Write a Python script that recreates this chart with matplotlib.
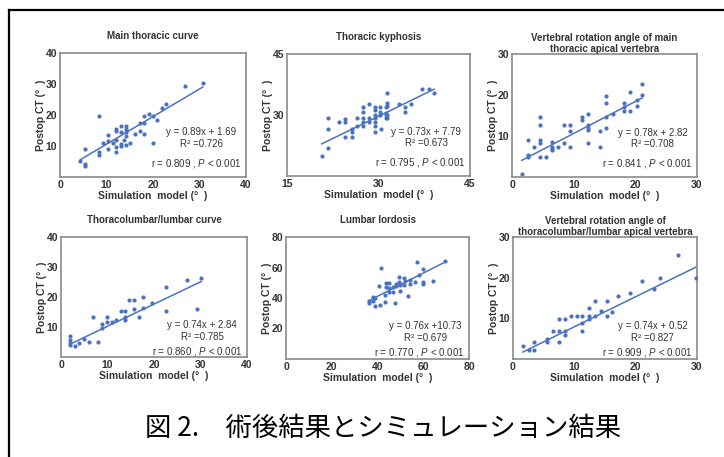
import numpy as np
import matplotlib
matplotlib.use("Agg")
import matplotlib.pyplot as plt
from matplotlib.lines import Line2D

plt.rcParams['font.family'] = ['Liberation Sans', 'DejaVu Sans']
plt.rcParams['mathtext.fontset'] = 'custom'
plt.rcParams['mathtext.rm'] = 'Liberation Sans'
plt.rcParams['mathtext.it'] = 'Liberation Sans:italic'

# ---- data ----
main_x = [4.4, 5.4, 5.4, 5.4, 8.3, 8.3, 8.3, 9.3, 10.3, 10.3, 10.3, 11.3, 12.1, 12.1,
          12.1, 12.1, 12.1, 13.2, 13.2, 13.2, 13.2, 13.7, 14.3, 14.3, 14.3, 14.3, 14.3,
          15.1, 16.1, 17.1, 17.1, 18.1, 18.1, 18.1, 19.1, 20.1, 20.1, 20.9, 22.0, 22.9,
          26.9, 30.7]
main_y = [5.2, 8.9, 4.2, 3.4, 19.6, 8.1, 7.1, 10.9, 13.6, 11.6, 8.9, 10.9, 12.0, 9.7,
          8.1, 15.6, 14.9, 16.5, 14.4, 10.7, 9.9, 11.8, 16.5, 15.4, 14.4, 13.3, 10.2,
          10.9, 13.9, 17.5, 14.9, 19.6, 17.5, 13.9, 20.3, 19.6, 10.9, 18.5, 22.4, 23.4,
          29.2, 30.2]

kyph_x = [20.7, 21.7, 21.7, 21.7, 23.6, 24.5, 24.5, 24.5, 25.6, 25.6, 25.6, 26.5, 26.5,
          27.4, 27.4, 27.4, 27.4, 27.4, 28.4, 28.4, 28.4, 29.5, 29.5, 29.5, 29.5, 29.5,
          29.5, 29.5, 30.3, 30.3, 30.3, 30.4, 31.2, 31.2, 31.2, 31.2, 31.4, 31.4, 31.4,
          31.4, 31.4, 33.4, 34.3, 34.3, 35.4, 37.2, 38.2, 39.1]
kyph_y = [20.0, 29.2, 26.5, 21.8, 28.3, 29.0, 28.3, 24.5, 26.5, 25.7, 24.5, 27.4, 29.2,
          32.0, 30.8, 29.2, 28.2, 27.4, 32.7, 29.2, 28.2, 32.0, 31.2, 30.0, 29.2, 28.2,
          27.4, 25.7, 32.0, 30.8, 30.0, 26.5, 32.0, 30.5, 30.0, 29.2, 35.5, 32.9, 32.3,
          30.0, 29.2, 32.7, 32.0, 30.8, 32.7, 36.5, 36.5, 35.5]

mtrot_x = [1.6, 2.6, 2.6, 2.6, 3.5, 4.6, 4.6, 4.6, 4.6, 4.6, 5.5, 6.5, 6.5, 6.5, 6.5,
           7.5, 8.5, 8.5, 9.4, 9.4, 9.4, 11.3, 11.3, 12.4, 12.4, 12.4, 12.4, 12.4, 14.2,
           14.2, 15.3, 15.3, 15.3, 15.3, 16.3, 18.2, 18.2, 18.2, 19.2, 19.2, 20.2, 20.2,
           21.1, 21.1]
mtrot_y = [0.8, 9.1, 5.3, 4.8, 7.4, 14.6, 12.7, 9.1, 8.3, 4.8, 4.8, 8.6, 7.4, 6.8, 6.5,
           7.4, 12.7, 8.3, 12.7, 11.1, 7.4, 14.6, 13.8, 15.3, 12.7, 12.0, 11.4, 8.3, 11.1,
           7.4, 19.8, 18.1, 14.7, 11.9, 15.3, 18.1, 17.0, 16.2, 20.8, 16.2, 18.9, 17.2,
           22.6, 20.0]

tl_x = [1.9, 1.9, 1.9, 1.9, 3.0, 3.9, 5.0, 6.1, 6.9, 7.9, 8.9, 8.9, 9.9, 9.9, 10.9, 11.8,
        12.9, 13.7, 13.7, 13.7, 14.7, 15.7, 15.7, 16.8, 17.6, 17.6, 19.5, 22.5, 22.5, 27.2,
        29.3, 30.2]
tl_y = [6.9, 5.6, 4.8, 4.0, 3.8, 4.8, 6.0, 5.0, 13.4, 5.0, 11.0, 9.8, 13.4, 11.7, 11.7,
        12.4, 15.2, 15.2, 13.4, 12.4, 19.0, 19.0, 16.0, 13.4, 20.0, 16.3, 18.1, 23.5, 15.2,
        25.6, 16.0, 26.5]

lord_x = [36.2, 36.2, 38.1, 38.1, 38.7, 39.1, 40.9, 41.4, 40.6, 43.2, 43.2, 43.8, 43.8,
          45.2, 45.2, 45.2, 46.7, 46.7, 47.5, 48.1, 48.1, 49.3, 49.3, 49.7, 49.7, 51.4,
          51.4, 52.2, 53.2, 54.3, 54.3, 56.2, 57.2, 58.0, 60.1, 60.1, 60.1, 64.1, 69.3]
lord_y = [36.5, 38.2, 40.9, 38.2, 35.0, 40.3, 35.6, 59.5, 47.8, 41.9, 37.1, 49.7, 47.0,
          49.7, 46.5, 44.0, 47.0, 44.0, 36.5, 49.1, 47.6, 53.9, 50.7, 48.2, 44.9, 52.8,
          48.6, 51.2, 41.3, 51.8, 49.1, 50.7, 63.7, 54.9, 58.7, 50.7, 49.1, 51.2, 64.4]

tlrot_x = [1.6, 2.6, 3.5, 3.5, 5.5, 5.5, 6.5, 7.5, 7.5, 7.5, 8.5, 8.5, 8.5, 9.4, 10.4,
           11.3, 11.3, 11.3, 12.4, 12.4, 12.4, 13.3, 13.3, 14.3, 15.3, 15.3, 16.2, 17.2,
           19.1, 21.1, 23.0, 24.0, 26.9, 29.9]
tlrot_y = [3.2, 2.3, 2.3, 4.2, 5.0, 4.2, 6.9, 9.8, 6.9, 4.2, 9.8, 6.9, 5.9, 10.6, 10.6,
           10.6, 8.8, 6.9, 12.5, 10.6, 9.8, 14.2, 10.6, 11.9, 14.2, 10.6, 11.5, 15.4,
           16.2, 19.1, 17.3, 20.0, 25.5, 19.8]

titles = ['Main thoracic curve', 'Thoracic kyphosis',
          'Vertebral rotation angle of main\nthoracic apical vertebra',
          'Thoracolumbar/lumbar curve', 'Lumbar lordosis',
          'Vertebral rotation angle of\nthoracolumbar/lumbar apical vertebra']
slopes = [0.89, 0.73, 0.78, 0.74, 0.76, 0.74]
intercepts = [1.69, 7.79, 2.82, 2.84, 10.73, 0.52]
eq_labels = ['y = 0.89x + 1.69', 'y = 0.73x + 7.79', 'y = 0.78x + 2.82',
             'y = 0.74x + 2.84', 'y = 0.76x +10.73', 'y = 0.74x + 0.52']
r2_vals = ['0.726', '0.673', '0.708', '0.785', '0.679', '0.827']
r_vals = ['0.809', '0.795', '0.841', '0.860', '0.770', '0.909']
xlims = [(0, 40), (15, 45), (0, 30), (0, 40), (0, 80), (0, 30)]
ylims = [(0, 40), (15, 45), (0, 30), (0, 40), (0, 80), (0, 30)]
xticks = [[0, 10, 20, 30, 40], [15, 30, 45], [0, 10, 20, 30],
          [0, 10, 20, 30, 40], [0, 20, 40, 60, 80], [0, 10, 20, 30]]
yticks = [[10, 20, 30, 40], [30, 45], [10, 20, 30],
          [10, 20, 30, 40], [20, 40, 60, 80], [10, 20, 30]]
caption = '図 2.　術後結果とシミュレーション結果'

xs = [main_x, kyph_x, mtrot_x, tl_x, lord_x, tlrot_x]
ys = [main_y, kyph_y, mtrot_y, tl_y, lord_y, tlrot_y]

W, H = 724, 457
# axes boxes in pixels: left, top, right, bottom
boxes = [(60, 53, 246, 177), (287, 54, 470, 176), (512, 54, 697, 177),
         (61, 237, 247, 357), (286, 237, 469, 359), (513, 237, 697, 359)]

blue = '#4a72c0'
grey = '#8a8a8a'
dark = '#333333'

fig = plt.figure(figsize=(W / 100, H / 100), dpi=100)

for i in range(6):
    l, t, r, b = boxes[i]
    ax = fig.add_axes([l / W, (H - b) / H, (r - l) / W, (b - t) / H])
    x = np.array(xs[i])
    y = np.array(ys[i])
    ax.scatter(x, y, s=9, color=blue, zorder=3, linewidths=0)
    xl = np.array([x.min(), x.max()])
    ax.plot(xl, slopes[i] * xl + intercepts[i], color=blue, lw=1.1, zorder=2)

    ax.set_xlim(*xlims[i])
    ax.set_ylim(*ylims[i])
    ax.set_xticks(xticks[i])
    ax.set_yticks(yticks[i])
    ax.tick_params(length=0, pad=2, labelsize=7.5, labelcolor=dark)
    for lab in ax.get_xticklabels() + ax.get_yticklabels():
        lab.set_fontweight('bold')
    for sp in ax.spines.values():
        sp.set_color(grey)
        sp.set_linewidth(1.2)

    ax.set_xlabel('Simulation  model (°  )', fontsize=7.5, fontweight='bold',
                  color=dark, labelpad=1)
    ax.set_ylabel('Postop CT (°  )', fontsize=7.5, fontweight='bold',
                  color=dark, labelpad=0)

    if '\n' in titles[i]:
        ax.text(0.5, 1.0, titles[i], transform=ax.transAxes, ha='center',
                va='bottom', fontsize=7, fontweight='bold', color=dark,
                linespacing=1.1)
    else:
        ax.text(0.5, 1.1, titles[i], transform=ax.transAxes, ha='center',
                va='bottom', fontsize=7, fontweight='bold', color=dark)

    if i < 3:
        ye, yr2, yr = 0.36, 0.27, 0.11
    else:
        ye, yr2, yr = 0.27, 0.17, 0.05
    ax.text(0.76, ye, eq_labels[i], transform=ax.transAxes, ha='center',
            va='center', fontsize=7, color=dark)
    ax.text(0.76, yr2, 'R² =' + r2_vals[i], transform=ax.transAxes,
            ha='center', va='center', fontsize=7, color=dark)
    ax.text(0.975, yr, 'r = ' + r_vals[i] + ' , $P$ < 0.001',
            transform=ax.transAxes, ha='right', va='center', fontsize=7,
            color=dark)

# outer frame (top and left edges only)
fig.add_artist(Line2D([9 / W, 1], [1 - 10 / H, 1 - 10 / H], color='black', lw=1.6))
fig.add_artist(Line2D([9 / W, 9 / W], [0, 1 - 10 / H], color='black', lw=1.6))

fig.text(383 / W, 1 - 428 / H, caption, ha='center', va='center', fontsize=19,
         family=['Noto Sans CJK JP', 'DejaVu Sans'], color='black')

fig.savefig('out.png', dpi=100)
